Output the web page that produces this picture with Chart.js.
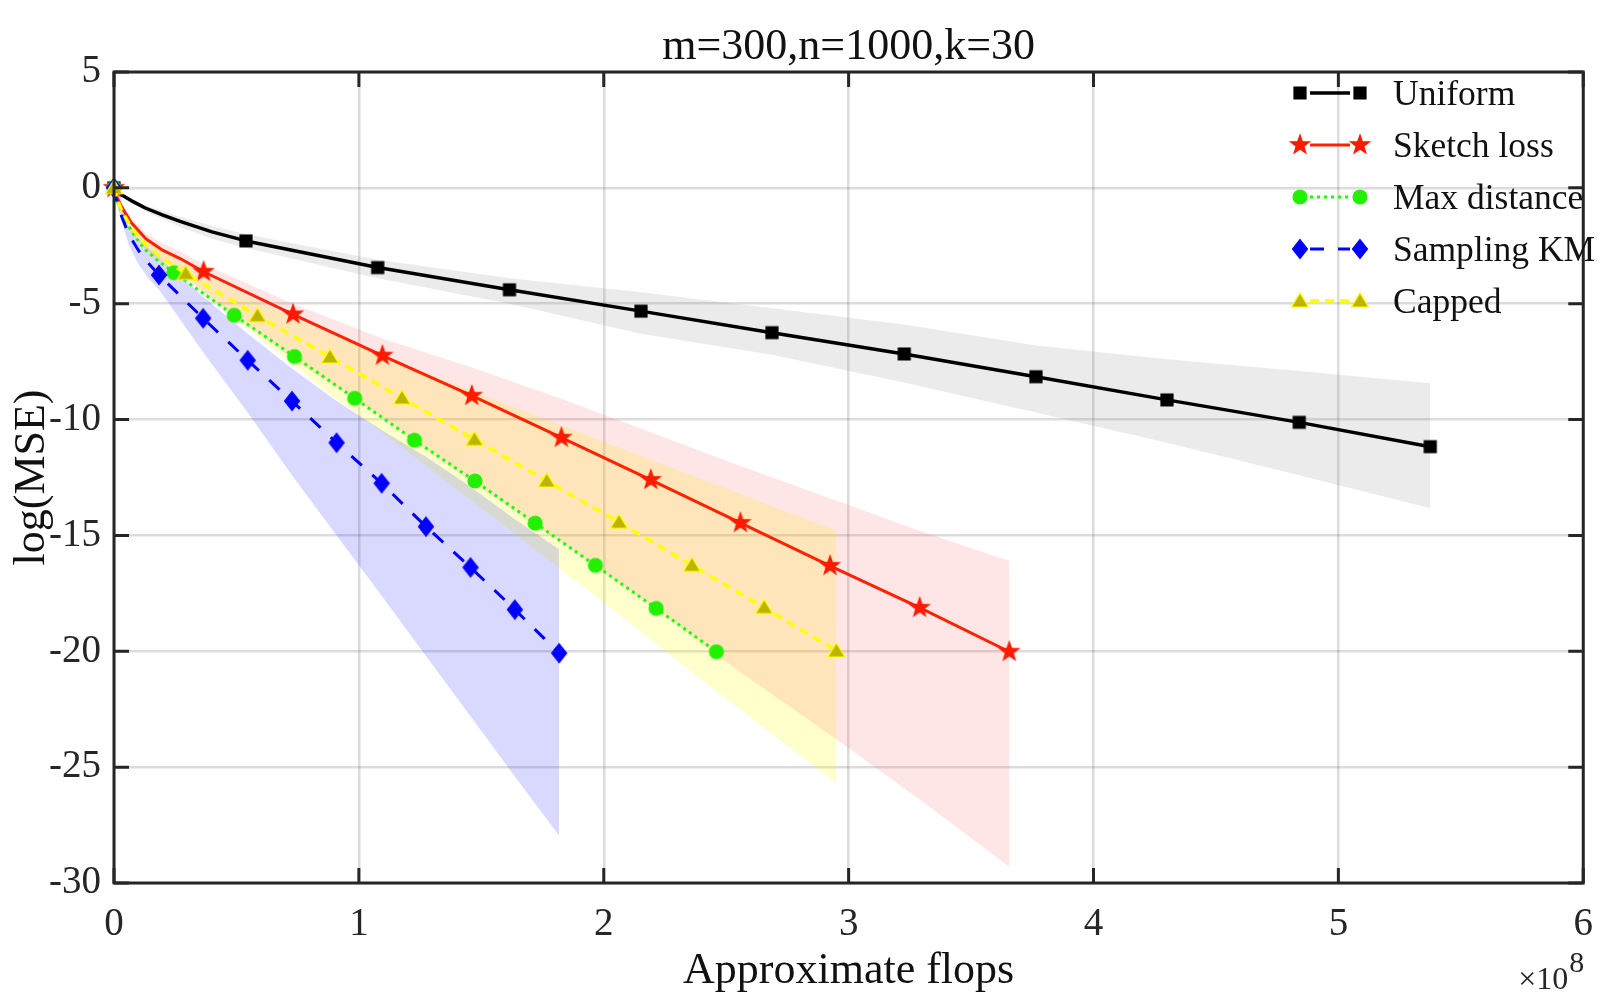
<!DOCTYPE html>
<html>
<head>
<meta charset="utf-8">
<script src="https://cdn.jsdelivr.net/npm/chart.js@4.4.0/dist/chart.umd.min.js"></script>
<style>
html,body{margin:0;padding:0;background:#fff;}
#wrap{width:1611px;height:997px;position:relative;}
</style>
</head>
<body>
<div id="wrap"><canvas id="myChart"></canvas></div>
<script>
// values, x in units of 1e8 flops
var uniformX = [0, 0.03, 0.07, 0.13, 0.2, 0.27, 0.40, 0.539, 1.077, 1.615, 2.152, 2.687, 3.227, 3.765, 4.30, 4.84, 5.375];
var uniformY = [0, -0.3, -0.55, -0.88, -1.18, -1.45, -1.9, -2.29, -3.44, -4.4, -5.32, -6.25, -7.17, -8.15, -9.15, -10.12, -11.17];
var uniformUpper = [0, -0.25, -0.45, -0.75, -1.0, -1.25, -1.65, -2.0, -3.1, -3.9, -4.5, -5.2, -5.9, -6.8, -7.4, -7.9, -8.43];
var uniformLower = [0, -0.35, -0.65, -1.02, -1.36, -1.68, -2.2, -2.6, -3.9, -5.0, -6.3, -7.2, -8.4, -9.7, -11.0, -12.4, -13.83];

var sketchX = [0, 0.01, 0.03, 0.07, 0.13, 0.2, 0.27, 0.366, 0.731, 1.096, 1.461, 1.827, 2.192, 2.558, 2.924, 3.29, 3.656];
var sketchY = [0, -0.35, -0.8, -1.5, -2.2, -2.7, -3.05, -3.62, -5.46, -7.24, -8.97, -10.78, -12.6, -14.46, -16.31, -18.12, -20.02];
var sketchUpper = [0, -0.3, -0.7, -1.3, -1.95, -2.4, -2.75, -3.3, -5.0, -6.5, -7.75, -9.1, -10.55, -12.0, -13.4, -14.8, -16.1];
var sketchLower = [0, -0.45, -0.95, -1.75, -2.6, -3.15, -3.6, -4.5, -7.4, -9.9, -12.7, -15.3, -18.0, -20.9, -23.6, -26.4, -29.3];

var maxX = [0, 0.01, 0.03, 0.07, 0.12, 0.18, 0.245, 0.491, 0.737, 0.983, 1.227, 1.474, 1.72, 1.966, 2.214, 2.46];
var maxY = [0, -0.45, -1.05, -1.85, -2.6, -3.15, -3.66, -5.5, -7.28, -9.08, -10.89, -12.65, -14.47, -16.29, -18.15, -20.02];

var kmX = [0, 0.01, 0.03, 0.06, 0.10, 0.14, 0.184, 0.364, 0.546, 0.727, 0.909, 1.093, 1.274, 1.456, 1.637, 1.818];
var kmY = [0, -0.5, -1.2, -2.0, -2.7, -3.25, -3.76, -5.63, -7.44, -9.2, -11.0, -12.75, -14.62, -16.38, -18.2, -20.08];
var kmUpper = [0, -0.4, -0.9, -1.6, -2.2, -2.6, -3.0, -4.7, -6.3, -7.8, -9.2, -10.45, -11.6, -12.9, -14.3, -15.6];
var kmLower = [0, -0.6, -1.4, -2.45, -3.3, -3.9, -4.4, -7.1, -9.7, -12.4, -15.0, -17.6, -20.2, -22.8, -25.4, -27.96];

var capX = [0, 0.01, 0.03, 0.07, 0.13, 0.2, 0.293, 0.586, 0.882, 1.176, 1.472, 1.767, 2.062, 2.36, 2.655, 2.95];
var capY = [0, -0.4, -0.95, -1.7, -2.45, -3.05, -3.7, -5.52, -7.3, -9.07, -10.86, -12.65, -14.43, -16.29, -18.11, -19.98];
var capUpper = [0, -0.35, -0.85, -1.5, -2.2, -2.75, -3.3, -4.9, -6.3, -7.6, -8.8, -10.0, -11.2, -12.4, -13.6, -14.8];
var capLower = [0, -0.45, -1.1, -1.95, -2.7, -3.3, -3.9, -6.4, -8.9, -11.2, -13.6, -16.0, -18.4, -20.9, -23.3, -25.7];

var xTicks = [0, 1, 2, 3, 4, 5, 6];
var yTicks = [5, 0, -5, -10, -15, -20, -25, -30];

var SERIF = 'Liberation Serif';
var AXIS = '#262626';

Chart.defaults.font.family = SERIF;

function marker(kind, fill, edge){
    var c = document.createElement('canvas');
    c.width = 26; c.height = 26;
    var g = c.getContext('2d');
    g.translate(13, 13);
    g.fillStyle = fill; g.strokeStyle = edge; g.lineWidth = 1.2;
    g.beginPath();
    if(kind == 'square'){ g.rect(-6, -6, 12, 12); }
    else if(kind == 'circle'){ g.arc(0, 0, 7, 0, Math.PI*2); }
    else if(kind == 'diamond'){ g.moveTo(0,-9.5); g.lineTo(7.5,0); g.lineTo(0,9.5); g.lineTo(-7.5,0); g.closePath(); }
    else if(kind == 'triangle'){ g.moveTo(0,-8); g.lineTo(8.5,6); g.lineTo(-8.5,6); g.closePath(); }
    else if(kind == 'star'){
        for(var i=0;i<10;i++){
            var r = i%2 ? 4 : 10;
            var a = -Math.PI/2 + i*Math.PI/5;
            g.lineTo(r*Math.cos(a), r*Math.sin(a));
        }
        g.closePath();
    }
    g.fill(); g.stroke();
    return c;
}

function pts(xs, ys){
    return xs.map(function(x, i){ return {x: x, y: ys[i]}; });
}

// head = how many early curve points carry no marker
var series = [
    {label:'Uniform', x:uniformX, y:uniformY, up:uniformUpper, lo:uniformLower, head:6,
     color:'#000000', width:3.5, dash:[], mk:marker('square','#000000','#000000'), band:'rgba(128,128,128,0.16)'},
    {label:'Sketch loss', x:sketchX, y:sketchY, up:sketchUpper, lo:sketchLower, head:6,
     color:'#ff2200', width:3, dash:[], mk:marker('star','#ff1a00','#ff1a00'), band:'rgba(255,60,60,0.13)'},
    {label:'Max distance', x:maxX, y:maxY, up:null, lo:null, head:5,
     color:'#1aff00', width:3, dash:[3,4], mk:marker('circle','#22f000','#22f000'), band:null},
    {label:'Sampling KM', x:kmX, y:kmY, up:kmUpper, lo:kmLower, head:5,
     color:'#0000ff', width:3, dash:[14,14], mk:marker('diamond','#0000ff','#0000ff'), band:'rgba(0,0,255,0.15)'},
    {label:'Capped', x:capX, y:capY, up:capUpper, lo:capLower, head:5,
     color:'#ffff00', width:3.5, dash:[9,6], mk:marker('triangle','#beb400','#ffff00'), band:'rgba(255,255,0,0.2)'}
];

var datasets = [];
series.forEach(function(s){
    if(!s.band) return;
    datasets.push({data:pts(s.x, s.up), fill:'+1', backgroundColor:s.band, borderColor:'rgba(0,0,0,0)',
        borderWidth:0, pointRadius:0, tension:0, order:50});
    datasets.push({data:pts(s.x, s.lo), fill:false, borderColor:'rgba(0,0,0,0)',
        borderWidth:0, pointRadius:0, tension:0, order:50});
});
series.forEach(function(s, k){
    var rad = function(c){ return (c.dataIndex == 0 || c.dataIndex > s.head) ? 6 : 0; };
    datasets.push({
        label:s.label,
        data:pts(s.x, s.y),
        fill:false,
        borderColor:s.color,
        borderWidth:s.width,
        borderDash:s.dash,
        borderCapStyle:'butt',
        borderJoinStyle:'round',
        tension:0,
        pointStyle:s.mk,
        pointRadius:rad,
        pointHoverRadius:rad,
        clip:12,
        order:10 - k
    });
});

var decor = {
    id:'decor',
    afterDatasetsDraw:function(chart){
        var ctx = chart.ctx, a = chart.chartArea;
        var xs = chart.scales.x, ys = chart.scales.y;
        ctx.save();
        ctx.strokeStyle = AXIS;
        ctx.lineWidth = 3;
        ctx.setLineDash([]);
        ctx.beginPath();
        xTicks.forEach(function(v){
            var px = xs.getPixelForValue(v);
            ctx.moveTo(px, a.bottom); ctx.lineTo(px, a.bottom - 15);
            ctx.moveTo(px, a.top); ctx.lineTo(px, a.top + 15);
        });
        yTicks.forEach(function(v){
            var py = ys.getPixelForValue(v);
            ctx.moveTo(a.left, py); ctx.lineTo(a.left + 15, py);
            ctx.moveTo(a.right, py); ctx.lineTo(a.right - 15, py);
        });
        ctx.stroke();
        ctx.strokeRect(a.left, a.top, a.right - a.left, a.bottom - a.top);
        ctx.restore();
    },
    afterDraw:function(chart){
        var ctx = chart.ctx, a = chart.chartArea;
        var cx = (a.left + a.right)/2;
        ctx.save();
        ctx.fillStyle = '#111';
        ctx.textAlign = 'center';
        ctx.textBaseline = 'alphabetic';
        ctx.font = '44px ' + SERIF;
        ctx.fillText('m=300,n=1000,k=30', cx, 59);
        ctx.fillText('Approximate flops', cx, 983);
        ctx.save();
        ctx.translate(44, (a.top + a.bottom)/2);
        ctx.rotate(-Math.PI/2);
        ctx.fillText('log(MSE)', 0, 0);
        ctx.restore();
        ctx.fillStyle = AXIS;
        ctx.font = '32px ' + SERIF;
        ctx.textAlign = 'right';
        ctx.fillText('\u00d710', a.right - 15, 989);
        ctx.textAlign = 'left';
        ctx.font = '30px ' + SERIF;
        ctx.fillText('8', a.right - 14, 972);

        // legend
        ctx.font = '35.5px ' + SERIF;
        ctx.fillStyle = '#111';
        series.forEach(function(s, i){
            var y = 93 + i*52;
            ctx.strokeStyle = s.color;
            ctx.lineWidth = s.width;
            ctx.setLineDash(s.dash);
            ctx.lineCap = 'butt';
            ctx.beginPath();
            ctx.moveTo(1310, y); ctx.lineTo(1350, y);
            ctx.stroke();
            ctx.setLineDash([]);
            ctx.drawImage(s.mk, 1300 - s.mk.width/2, y - s.mk.height/2);
            ctx.drawImage(s.mk, 1360 - s.mk.width/2, y - s.mk.height/2);
            ctx.fillText(s.label, 1393, y + 12);
        });
        ctx.restore();
    }
};

var ctx = document.getElementById('myChart').getContext('2d');
var myChart = new Chart(ctx, {
    type:'line',
    data:{datasets:datasets},
    plugins:[decor],
    options:{
        responsive:true,
        maintainAspectRatio:false,
        animation:false,
        events:[],
        layout:{padding:{top:72, right:9, left:0, bottom:0}},
        plugins:{legend:{display:false}, tooltip:{enabled:false}, title:{display:false}},
        scales:{
            x:{
                type:'linear', min:0, max:6,
                afterFit:function(sc){ sc.height = 114; },
                afterBuildTicks:function(sc){ sc.ticks = xTicks.map(function(v){ return {value:v}; }); },
                grid:{color:'rgba(38,38,38,0.16)', lineWidth:2.5, drawTicks:false},
                border:{display:false},
                ticks:{padding:18, color:AXIS, font:{family:SERIF, size:39}, maxRotation:0,
                       callback:function(v){ return String(v); }}
            },
            y:{
                type:'linear', min:-30, max:5,
                afterFit:function(sc){ sc.width = 114; },
                afterBuildTicks:function(sc){ sc.ticks = yTicks.map(function(v){ return {value:v}; }); },
                grid:{color:'rgba(38,38,38,0.16)', lineWidth:2.5, drawTicks:false},
                border:{display:false},
                ticks:{padding:13, color:AXIS, font:{family:SERIF, size:39},
                       callback:function(v){ return String(v); }}
            }
        }
    }
});
</script>
</body>
</html>
